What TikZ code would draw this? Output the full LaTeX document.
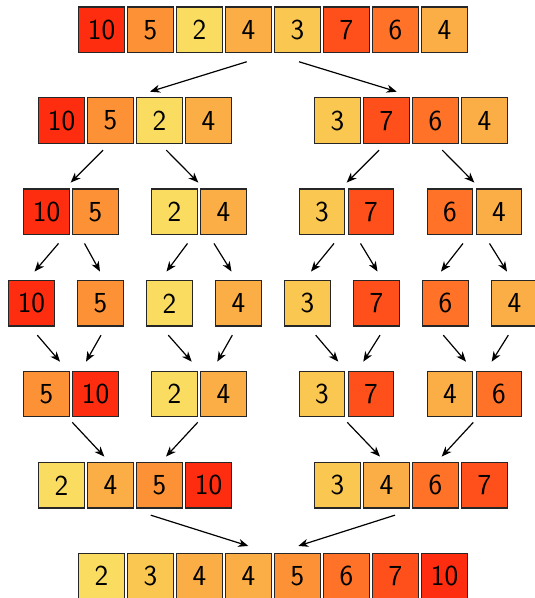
\documentclass[tikz,border=0pt]{standalone}
\usetikzlibrary{arrows.meta,calc}
\definecolor{c2}{HTML}{F9DC60}
\definecolor{c3}{HTML}{FAC750}
\definecolor{c4}{HTML}{FBAE45}
\definecolor{c5}{HTML}{FC9235}
\definecolor{c6}{HTML}{FF7228}
\definecolor{c7}{HTML}{FF4F1A}
\definecolor{c10}{HTML}{FF2D10}
\newcommand\cellnode[4]{\node[cell,fill=c#4] (#1) at (#2,#3) {#4};}
\begin{document}
\begin{tikzpicture}[x=1pt,y=-1pt,
  cell/.style={draw=black!85,line width=1.2pt,minimum size=45.5pt,inner sep=0pt,
    font=\sffamily\fontsize{29}{30}\selectfont},
  arr/.style={line width=1.2pt,-{Stealth[length=10pt,width=8pt,inset=3pt]}}]
\useasboundingbox (0,0) rectangle (535,598);
% row 1
\cellnode{r1-1}{101.5}{29.8}{10}
\cellnode{r1-2}{150.5}{29.8}{5}
\cellnode{r1-3}{199.5}{29.8}{2}
\cellnode{r1-4}{248.5}{29.8}{4}
\cellnode{r1-5}{297.5}{29.8}{3}
\cellnode{r1-6}{346.5}{29.8}{7}
\cellnode{r1-7}{395.5}{29.8}{6}
\cellnode{r1-8}{444.5}{29.8}{4}
% row 2
\cellnode{r2-1}{61.5}{120.6}{10}
\cellnode{r2-2}{110.5}{120.6}{5}
\cellnode{r2-3}{159.5}{120.6}{2}
\cellnode{r2-4}{208.5}{120.6}{4}
\cellnode{r2-5}{337.5}{120.6}{3}
\cellnode{r2-6}{386.5}{120.6}{7}
\cellnode{r2-7}{435.5}{120.6}{6}
\cellnode{r2-8}{484.5}{120.6}{4}
% row 3
\cellnode{r3-1}{46.5}{211.8}{10}
\cellnode{r3-2}{95.5}{211.8}{5}
\cellnode{r3-3}{174.5}{211.8}{2}
\cellnode{r3-4}{223.5}{211.8}{4}
\cellnode{r3-5}{322}{211.8}{3}
\cellnode{r3-6}{371}{211.8}{7}
\cellnode{r3-7}{450}{211.8}{6}
\cellnode{r3-8}{499}{211.8}{4}
% row 4
\cellnode{r4-1}{31.5}{303.3}{10}
\cellnode{r4-2}{100.5}{303.3}{5}
\cellnode{r4-3}{169.5}{303.3}{2}
\cellnode{r4-4}{238.5}{303.3}{4}
\cellnode{r4-5}{307.5}{303.3}{3}
\cellnode{r4-6}{376.5}{303.3}{7}
\cellnode{r4-7}{445.5}{303.3}{6}
\cellnode{r4-8}{514.5}{303.3}{4}
% row 5
\cellnode{r5-1}{46.5}{394}{5}
\cellnode{r5-2}{95.5}{394}{10}
\cellnode{r5-3}{174.5}{394}{2}
\cellnode{r5-4}{223.5}{394}{4}
\cellnode{r5-5}{322}{394}{3}
\cellnode{r5-6}{371}{394}{7}
\cellnode{r5-7}{450}{394}{4}
\cellnode{r5-8}{499}{394}{6}
% row 6
\cellnode{r6-1}{61.5}{485.3}{2}
\cellnode{r6-2}{110.5}{485.3}{4}
\cellnode{r6-3}{159.5}{485.3}{5}
\cellnode{r6-4}{208.5}{485.3}{10}
\cellnode{r6-5}{337.5}{485.3}{3}
\cellnode{r6-6}{386.5}{485.3}{4}
\cellnode{r6-7}{435.5}{485.3}{6}
\cellnode{r6-8}{484.5}{485.3}{7}
% row 7
\cellnode{r7-1}{101.5}{576}{2}
\cellnode{r7-2}{150.5}{576}{3}
\cellnode{r7-3}{199.5}{576}{4}
\cellnode{r7-4}{248.5}{576}{4}
\cellnode{r7-5}{297.5}{576}{5}
\cellnode{r7-6}{346.5}{576}{6}
\cellnode{r7-7}{395.5}{576}{7}
\cellnode{r7-8}{444.5}{576}{10}
% arrows 1 -> 2
\draw[arr] ($(r1-4.south)+(-1.8,8.6)$) -- ($(r2-3.north)+(-9.5,-5.6)$);
\draw[arr] ($(r1-5.south)+(1.5,8.6)$) -- ($(r2-6.north)+(10.2,-5.6)$);
% arrows 2 -> 3
\draw[arr] ($(r2-2.south)+(-7.5,6.2)$) -- ($(r3-1.north)+(24.2,-5.9)$);
\draw[arr] ($(r2-3.south)+(6.8,6.2)$) -- ($(r3-3.north)+(23.8,-5.9)$);
\draw[arr] ($(r2-6.south)+(-7.5,6.2)$) -- ($(r3-5.north)+(24.7,-5.9)$);
\draw[arr] ($(r2-7.south)+(6.8,6.2)$) -- ($(r3-7.north)+(24.3,-5.9)$);
% arrows 3 -> 4
\draw[arr] ($(r3-1.south)+(12,8.3)$) -- ($(r4-1.north)+(3,-8.4)$);
\draw[arr] ($(r3-2.south)+(-11,8.3)$) -- ($(r4-2.north)+(-0.5,-8.4)$);
\draw[arr] ($(r3-3.south)+(13,8.3)$) -- ($(r4-3.north)+(-3,-8.4)$);
\draw[arr] ($(r3-4.south)+(-9.5,8.3)$) -- ($(r4-4.north)+(-7,-8.4)$);
\draw[arr] ($(r3-5.south)+(12,8.3)$) -- ($(r4-5.north)+(3.5,-8.4)$);
\draw[arr] ($(r3-6.south)+(-10.5,8.3)$) -- ($(r4-6.north)+(1,-8.4)$);
\draw[arr] ($(r3-7.south)+(13,8.3)$) -- ($(r4-7.north)+(-4.5,-8.4)$);
\draw[arr] ($(r3-8.south)+(-9.5,8.3)$) -- ($(r4-8.north)+(-7.5,-8.4)$);
% arrows 4 -> 5
\draw[arr] ($(r4-1.south)+(5.8,8.5)$) -- ($(r5-1.north)+(13.5,-9)$);
\draw[arr] ($(r4-2.south)+(0.5,8.5)$) -- ($(r5-2.north)+(-9.5,-9)$);
\draw[arr] ($(r4-3.south)+(-1.2,8.5)$) -- ($(r5-3.north)+(17.2,-9)$);
\draw[arr] ($(r4-4.south)+(-6.2,8.5)$) -- ($(r5-4.north)+(-6.2,-9)$);
\draw[arr] ($(r4-5.south)+(8.2,8.5)$) -- ($(r5-5.north)+(16.3,-9)$);
\draw[arr] ($(r4-6.south)+(3.5,8.5)$) -- ($(r5-6.north)+(-7.7,-9)$);
\draw[arr] ($(r4-7.south)+(-2.2,8.5)$) -- ($(r5-7.north)+(16,-9)$);
\draw[arr] ($(r4-8.south)+(-6.2,8.5)$) -- ($(r5-8.north)+(-7.3,-9)$);
% arrows 5 -> 6
\draw[arr] ($(r5-1.south)+(25.8,5)$) -- ($(r6-2.north)+(-6.2,-5.4)$);
\draw[arr] ($(r5-3.south)+(23.2,5)$) -- ($(r6-3.north)+(6.5,-5.4)$);
\draw[arr] ($(r5-5.south)+(25.3,5)$) -- ($(r6-6.north)+(-6.5,-5.4)$);
\draw[arr] ($(r5-7.south)+(23.3,5)$) -- ($(r6-7.north)+(6.2,-5.4)$);
% arrows 6 -> 7
\draw[arr] ($(r6-3.south)+(-8.8,6.5)$) -- ($(r7-4.north)+(-0.2,-6.7)$);
\draw[arr] ($(r6-6.south)+(8.5,6.5)$) -- ($(r7-5.north)+(0.8,-6.7)$);
\end{tikzpicture}
\end{document}
